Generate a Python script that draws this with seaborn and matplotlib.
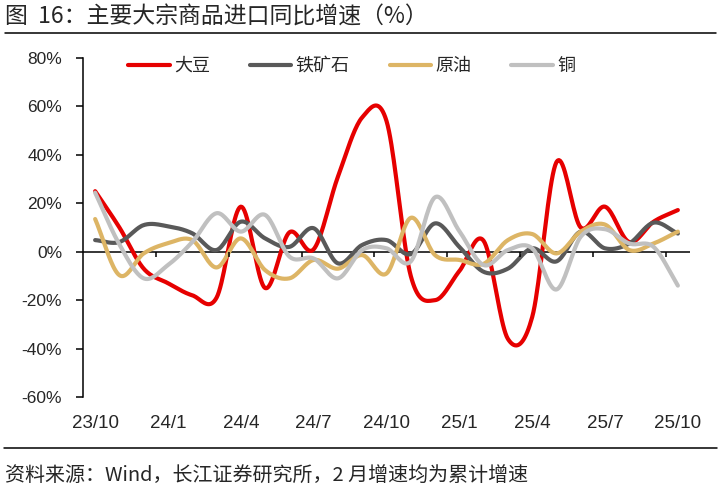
import numpy as np
import pandas as pd
import matplotlib
matplotlib.use("Agg")
import matplotlib.pyplot as plt
import seaborn as sns
from matplotlib.lines import Line2D

# monthly data, 23/10 .. 25/10 (YoY %)
months = ["23/10", "23/11", "23/12", "24/1", "24/2", "24/3", "24/4", "24/5", "24/6",
          "24/7", "24/8", "24/9", "24/10", "24/11", "24/12", "25/1", "25/2", "25/3",
          "25/4", "25/5", "25/6", "25/7", "25/8", "25/9", "25/10"]
soybean = [25, 10, -7, -13, -18, -19, 18.6, -15, 8, 1, 31, 55.5, 54, -10, -20,
           -8, 4.5, -36, -27, 37, 10, 18.6, 4, 12.4, 17.2]
iron_ore = [4.8, 4, 11, 10.5, 7.6, 0.7, 12.4, 5.5, 2, 9.7, -4.8, 2.8, 4.8, -1, 11.7,
            2, -8.3, -7, 1.4, -4, 8.3, 1.4, 3.4, 12, 7.5]
crude = [13.5, -9.7, -0.7, 3.5, 4.8, -6.5, 5.5, -7.6, -11, -3.4, -7, -1.4, -9, 14, -1.4,
         -3.4, -5, 4.8, 7.3, -0.7, 8.3, 11.2, 0.7, 3.4, 8.3]
copper = [24.4, 3, -11, -5.5, 4, 15.9, 8.3, 15.2, -2, -2.8, -11, 0.7, 1.4, -4, 22.5,
          8.5, -5.5, 0.7, 1.4, -15.6, 6.2, 9.3, 3.4, 2, -14]

names = ["大豆", "铁矿石", "原油", "铜"]
colors = ["#E60000", "#595959", "#DDB565", "#C0C0C0"]
series = [soybean, iron_ore, crude, copper]


def smooth(y, n=20):
    # catmull-rom curve through the points, like Excel's smoothed line
    y = np.asarray(y, float)
    x = np.arange(len(y), dtype=float)
    p = np.concatenate([[2 * y[0] - y[1]], y, [2 * y[-1] - y[-2]]])
    xs, ys = [], []
    t = np.linspace(0, 1, n, endpoint=False)
    for i in range(len(y) - 1):
        p0, p1, p2, p3 = p[i], p[i + 1], p[i + 2], p[i + 3]
        c = 0.5 * (2 * p1 + (-p0 + p2) * t + (2 * p0 - 5 * p1 + 4 * p2 - p3) * t ** 2
                   + (-p0 + 3 * p1 - 3 * p2 + p3) * t ** 3)
        xs.append(x[i] + t)
        ys.append(c)
    xs.append([x[-1]])
    ys.append([y[-1]])
    return np.concatenate(xs), np.concatenate(ys)


rows = []
for name, vals in zip(names, series):
    sx, sy = smooth(vals)
    rows.append(pd.DataFrame({"x": sx, "y": sy, "name": name}))
df = pd.concat(rows, ignore_index=True)

sns.set_theme(style="white")
plt.rcParams["font.family"] = ["Liberation Sans", "Noto Sans CJK SC", "DejaVu Sans"]

W, H = 721, 497
fig = plt.figure(figsize=(W / 100, H / 100), dpi=100)
ax = fig.add_axes([83 / W, (H - 397) / H, 607 / W, 339 / H])

sns.lineplot(data=df, x="x", y="y", hue="name", hue_order=names,
             palette=colors, linewidth=3, sort=False, estimator=None, ax=ax)

ax.set_xlim(-0.5, len(months) - 0.5)
ax.set_ylim(-60, 80)
ax.set_xlabel("")
ax.set_ylabel("")

for s in ["top", "right", "bottom"]:
    ax.spines[s].set_visible(False)
ax.spines["left"].set_color("black")
ax.spines["left"].set_linewidth(1.1)

ax.axhline(0, color="black", lw=1.1, zorder=1)
ax.vlines(np.arange(2.5, len(months) - 1, 3), -2.1, 0, color="black", lw=1.1)

ax.set_yticks(np.arange(-60, 81, 20))
ax.set_yticklabels([f"{v}%" for v in range(-60, 81, 20)])
ax.tick_params(axis="y", direction="out", length=5, width=1.1, color="black",
               pad=10, labelsize=12.5, left=True)
ax.set_xticks(range(0, len(months), 3))
ax.set_xticklabels(months[::3])
ax.tick_params(axis="x", length=0, pad=13, labelsize=13.5)

handles, labels = ax.get_legend_handles_labels()
ax.legend(handles, labels, ncol=4, loc="center left",
          bbox_to_anchor=((128 - 83) / 607, (397 - 66) / 339),
          frameon=False, borderpad=0, borderaxespad=0, handlelength=2.3,
          handletextpad=0.25, columnspacing=2.2,
          prop={"family": "Noto Sans CJK SC", "size": 13})

fig.text(5 / W, 1 - 17 / H, "图  16：主要大宗商品进口同比增速（%）",
         family=["Noto Sans CJK SC", "DejaVu Sans"], fontsize=16.5, va="center", ha="left")
fig.add_artist(Line2D([5 / W, 716 / W], [1 - 33 / H] * 2, color="black", lw=1.1))
fig.add_artist(Line2D([4 / W, 717 / W], [1 - 448 / H] * 2, color="black", lw=1.1))
fig.text(5 / W, 1 - 476 / H, "资料来源：Wind，长江证券研究所，2 月增速均为累计增速",
         family=["Noto Sans CJK SC", "DejaVu Sans"], fontsize=14.4, va="center", ha="left")

fig.savefig("out.png", dpi=100)
